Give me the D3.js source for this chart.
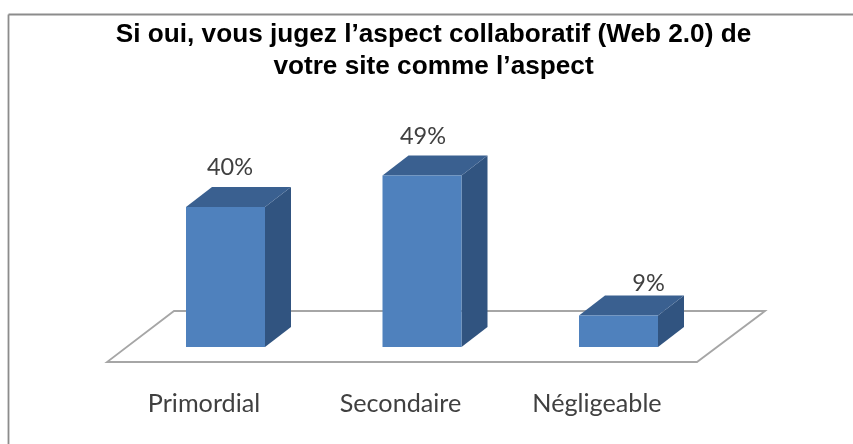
<!DOCTYPE html>
<html><head><meta charset="utf-8">
<script src="https://cdn.jsdelivr.net/npm/d3@7"></script>
<style>html,body{margin:0;padding:0;background:#fff}svg{display:block;filter:blur(0.4px)}</style>
</head><body><script>
const categories = ["Primordial","Secondaire","Négligeable"];
const percentages = [40,49,9];
const titleLines = ["Si oui, vous jugez l’aspect collaboratif (Web 2.0) de","votre site comme l’aspect"];

const W=853,H=444, base=347, dx=26, dy=20, barW=79;
const labelShift=[[4.5,-32],[1,-32],[30,-25]];
const svg=d3.select("body").append("svg").attr("width",W).attr("height",H);
const x=d3.scalePoint().domain(categories).range([225.5,618.5]);
const y=d3.scaleLinear().domain([0,40]).range([base,207]);

svg.append("path").attr("d","M8.5,14.5V444M8.5,14.5H853").attr("fill","none").attr("stroke","#8c8c8c").attr("stroke-width",1.8);

svg.append("path").attr("d","M107,362H697L765,311H174Z").attr("fill","#fff").attr("stroke","#a6a6a6").attr("stroke-width",1.8);

const g=svg.selectAll("g.bar").data(categories.map((c,i)=>({c,v:percentages[i],i}))).join("g");
g.append("path").attr("fill","#315480").attr("d",d=>{const l=x(d.c)+barW/2,t=y(d.v);
  return `M${l},${t}L${l+dx},${t-dy}V${base-dy}L${l},${base}Z`;});
g.append("path").attr("fill","#3a6090").attr("d",d=>{const a=x(d.c)-barW/2,t=y(d.v);
  return `M${a},${t}L${a+dx},${t-dy}H${a+dx+barW}L${a+barW},${t}Z`;});
g.append("rect").attr("fill","#4f81bd").attr("x",d=>x(d.c)-barW/2).attr("width",barW).attr("y",d=>y(d.v)).attr("height",d=>base-y(d.v));
g.append("text").attr("x",d=>x(d.c)+labelShift[d.i][0]).attr("y",d=>y(d.v)+labelShift[d.i][1]).attr("text-anchor","middle")
 .attr("font-family","Lato,sans-serif").attr("font-size",23.5).attr("fill","#404040").text(d=>d.v+"%");
g.append("text").attr("x",d=>x(d.c)-21.5).attr("y",412).attr("text-anchor","middle")
 .attr("font-family","Lato,sans-serif").attr("font-size",25.2).attr("fill","#404040").text(d=>d.c);

svg.selectAll("text.title").data(titleLines).join("text").attr("class","title")
 .attr("x",433.5).attr("y",(d,i)=>42+i*31.5).attr("text-anchor","middle")
 .attr("font-family","'Liberation Sans',sans-serif").attr("font-weight","bold").attr("font-size",26.2).attr("fill","#000").text(d=>d);
</script></body></html>
